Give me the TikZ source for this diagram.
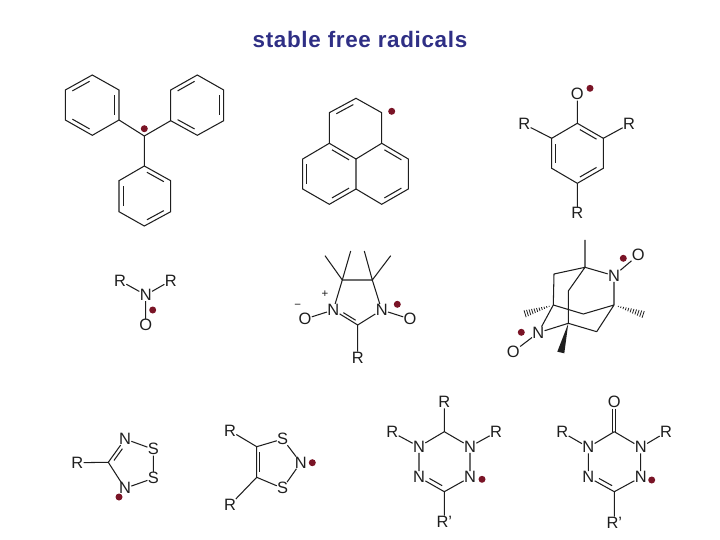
\documentclass[tikz,border=0pt]{standalone}
\usepackage{fontspec}
\setmainfont{Liberation Sans}
\usetikzlibrary{calc}
\definecolor{bondc}{HTML}{1E1E1E}
\definecolor{radc}{HTML}{7A1426}
\definecolor{titlec}{HTML}{2F2F85}
\newcommand{\dbl}[3]{\draw[bond] ($($(#1)!.12!(#2)$)!.16!(#3)$) -- ($($(#2)!.12!(#1)$)!.16!(#3)$);}
\newcommand{\dblx}[5]{\draw[bond] ($($(#1)!#4!(#2)$)!.16!(#3)$) -- ($($(#2)!#5!(#1)$)!.16!(#3)$);}
\newcommand{\hashw}[2]{\foreach \t in {.14,.22,...,1.0}{\pgfmathsetmacro\hh{3.8*\t}
  \draw[hash] ($($(#1)!\t!(#2)$)!\hh bp!90:(#2)$) -- ($($(#1)!\t!(#2)$)!\hh bp!-90:(#2)$);}}
\tikzset{
  bond/.style={draw=bondc,line width=1.05bp},
  hash/.style={draw=bondc,line width=0.8bp},
  atom/.style={font=\fontsize{16.5}{17}\selectfont,text=bondc,inner sep=0.4bp,outer sep=0pt,minimum size=0pt},
  chg/.style={font=\fontsize{11.5}{12}\selectfont,text=bondc,inner sep=0pt},
  rad/.style={circle,fill=radc,draw=none,minimum size=7bp,inner sep=0pt},
  heading/.style={font=\fontsize{22.5}{26}\selectfont\bfseries\addfontfeatures{LetterSpace=3},text=titlec,inner sep=0pt}
}
\begin{document}
\begin{tikzpicture}[x=1bp,y=-1bp]
\useasboundingbox (0,0) rectangle (720,540);
\node[heading] (title) at (360,39.5) {stable free radicals};

% --- triphenylmethyl
\path (144.3,136) coordinate (tc)
 (92.3,75) coordinate (l1) (119,90) coordinate (l2) (119,120) coordinate (l3)
 (92.3,135.3) coordinate (l4) (65.3,120) coordinate (l5) (65.3,90) coordinate (l6) (92.3,105) coordinate (lc)
 (197.3,75) coordinate (r1) (223.7,90) coordinate (r2) (223.7,120.7) coordinate (r3)
 (197.3,135.3) coordinate (r4) (170.7,120.7) coordinate (r5) (170.7,90) coordinate (r6) (197.3,105) coordinate (rc)
 (144.3,166) coordinate (b1) (170.7,180.7) coordinate (b2) (170.7,211.7) coordinate (b3)
 (144.3,226) coordinate (b4) (119,211.7) coordinate (b5) (119,180.7) coordinate (b6) (144.3,196) coordinate (bc);
\draw[bond] (l1)--(l2)--(l3)--(l4)--(l5)--(l6)--cycle;
\draw[bond] (r1)--(r2)--(r3)--(r4)--(r5)--(r6)--cycle;
\draw[bond] (b1)--(b2)--(b3)--(b4)--(b5)--(b6)--cycle;
\draw[bond] (l3)--(tc) (r5)--(tc) (b1)--(tc);
\dbl{l6}{l1}{lc}\dbl{l4}{l5}{lc}\dbl{l2}{l3}{lc}
\dbl{r6}{r1}{rc}\dbl{r2}{r3}{rc}\dbl{r4}{r5}{rc}
\dbl{b1}{b2}{bc}\dbl{b3}{b4}{bc}\dbl{b5}{b6}{bc}
\node[rad] (rad1) at (144.3,128.7) {};

% --- phenalenyl
\path (356,98.3) coordinate (p1) (381.7,112.7) coordinate (p2) (381.7,143.3) coordinate (p3)
 (356,159) coordinate (p4) (329.3,143.3) coordinate (p5) (329.3,112.7) coordinate (p6)
 (302.7,159) coordinate (p7) (302.7,189) coordinate (p8) (329.3,204.3) coordinate (p9)
 (356,189) coordinate (p10) (381.7,204.3) coordinate (p11) (408.3,189) coordinate (p12) (408.3,159) coordinate (p13)
 (356,128.5) coordinate (pa) (329.3,174) coordinate (pb) (381.7,174) coordinate (pd);
\draw[bond] (p1)--(p2)--(p3)--(p4)--(p5)--(p6)--cycle;
\draw[bond] (p5)--(p7)--(p8)--(p9)--(p10)--(p4);
\draw[bond] (p10)--(p11)--(p12)--(p13)--(p3);
\dbl{p6}{p1}{pa}\dbl{p5}{p4}{pb}\dbl{p7}{p8}{pb}\dbl{p9}{p10}{pb}\dbl{p3}{p13}{pd}\dbl{p12}{p11}{pd}
\node[rad] (rad2) at (391.7,111.3) {};

% --- phenoxyl
\node[atom] (po) at (577.3,94.3) {O};
\node[atom] (prl) at (524.3,124.3) {R};
\node[atom] (prr) at (629,124.3) {R};
\node[atom] (prb) at (577.3,213.3) {R};
\path (577.3,123.3) coordinate (q1) (603.3,138.3) coordinate (q2) (603.3,168.3) coordinate (q3)
 (577.3,183.3) coordinate (q4) (551.7,168.3) coordinate (q5) (551.7,138.3) coordinate (q6) (577.3,153.3) coordinate (qc);
\draw[bond] (q1)--(q2)--(q3)--(q4)--(q5)--(q6)--cycle;
\draw[bond] (po)--(q1) (prl)--(q6) (prr)--(q2) (prb)--(q4);
\dbl{q1}{q2}{qc}\dbl{q3}{q4}{qc}\dbl{q5}{q6}{qc}
\node[rad] (rad3) at (590,88.3) {};

% --- nitroxide
\node[atom] (nrl) at (120,280.7) {R};
\node[atom] (nrr) at (170.7,280.7) {R};
\node[atom] (nn) at (145.7,295) {N};
\node[atom] (no) at (145.7,325) {O};
\draw[bond] (nrl)--(nn) (nrr)--(nn) (nn)--(no);
\node[rad] (rad4) at (152.7,310) {};

% --- nitronyl nitroxide
\path (342.3,280) coordinate (i4) (372.3,280) coordinate (i5) (357.7,325) coordinate (i2)
 (325,255.7) coordinate (m1) (350.7,251) coordinate (m2) (364.3,251) coordinate (m3) (390.7,255.7) coordinate (m4)
 (357.7,303) coordinate (ic);
\node[atom] (in1) at (333.3,310) {N};
\node[atom] (in3) at (381.7,310) {N};
\node[atom] (iol) at (305,319) {O};
\node[atom] (ior) at (410,319) {O};
\node[atom] (ir) at (357.7,357.7) {R};
\node[chg] (plus) at (325,294.3) {+};
\node[chg] (minus) at (297.7,306) {−};
\draw[bond] (i4)--(i5) (i5)--(in3) (in3)--(i2) (i2)--(in1) (in1)--(i4) (i2)--(ir) (in1)--(iol) (in3)--(ior);
\draw[bond] (i4)--(m1) (i4)--(m2) (i5)--(m3) (i5)--(m4);
\dblx{in1}{i2}{ic}{.3}{.1}
\node[rad] (rad5) at (397.3,304.3) {};

% --- bicyclic dinitroxide
\path (585,267.3) coordinate (d1) (585,240) coordinate (d1m)
 (614,305) coordinate (d2) (645,315) coordinate (d2m) (596.7,331.7) coordinate (d3)
 (568.3,323.3) coordinate (d4) (553.3,305) coordinate (d5) (523.3,314.3) coordinate (d5m)
 (554,274) coordinate (d6) (568.3,291) coordinate (d7) (583.3,314) coordinate (d8)
 (557.3,351.7) coordinate (w1) (564.3,353.3) coordinate (w2);
\node[atom] (dn1) at (614,275.7) {N};
\node[atom] (do1) at (638.3,255) {O};
\node[atom] (dn2) at (538.3,332.7) {N};
\node[atom] (do2) at (513.3,351.7) {O};
\draw[bond] (d1)--(d1m) (d1)--(dn1) (dn1)--(d2) (dn1)--(do1) (d2)--(d3) (d3)--(d4) (d4)--(dn2) (dn2)--(d5) (dn2)--(do2)
 (d1)--(d6) (d6)--(d5) (d1)--(d7) (d7)--(d4) (d5)--(d8) (d8)--(d2);
\fill[bondc] (d4)--(w1)--(w2)--cycle;
\hashw{d2}{d2m}
\hashw{d5}{d5m}
\node[rad] (rad6) at (623.3,258.3) {};
\node[rad] (rad7) at (521.3,332.3) {};

% --- dithiadiazolyl
\path (108.3,462.3) coordinate (e1) (135,463) coordinate (ec);
\node[atom] (er) at (77.3,462.7) {R};
\node[atom] (en1) at (125,439) {N};
\node[atom] (es1) at (153.3,449.3) {S};
\node[atom] (es2) at (153.3,478.3) {S};
\node[atom] (en2) at (125,488.3) {N};
\draw[bond] (er)--(e1) (e1)--(en1) (en1)--(es1) (es1)--(es2) (es2)--(en2) (en2)--(e1);
\dblx{e1}{en1}{ec}{.1}{.3}
\node[rad] (rad8) at (119,497) {};

% --- dithiazolyl
\path (256.7,446.7) coordinate (f1) (256.7,477.3) coordinate (f2) (275,462) coordinate (fc);
\node[atom] (fr1) at (230,430.7) {R};
\node[atom] (fr2) at (230,505) {R};
\node[atom] (fs1) at (282.7,439) {S};
\node[atom] (fn) at (300.7,462.7) {N};
\node[atom] (fs2) at (282.7,488.3) {S};
\draw[bond] (fr1)--(f1) (fr2)--(f2) (f1)--(f2) (f1)--(fs1) (fs1)--(fn) (fn)--(fs2) (fs2)--(f2);
\dbl{f1}{f2}{fc}
\node[rad] (rad9) at (312.3,462.7) {};

% --- verdazyl 1
\path (444.3,431.7) coordinate (g1) (444.3,491.7) coordinate (g2) (444.3,461.7) coordinate (gc);
\node[atom] (grt) at (444.3,402.3) {R};
\node[atom] (grl) at (392.3,432.3) {R};
\node[atom] (grr) at (496,432.3) {R};
\node[atom] (gn1) at (419,446.7) {N};
\node[atom] (gn2) at (470,446.7) {N};
\node[atom] (gn3) at (419,477.3) {N};
\node[atom] (gn4) at (470,477.3) {N};
\node[atom] (grb) at (444.3,521.7) {R'};
\draw[bond] (grt)--(g1) (g1)--(gn1) (g1)--(gn2) (grl)--(gn1) (grr)--(gn2) (gn1)--(gn3) (gn2)--(gn4)
 (gn3)--(g2) (gn4)--(g2) (g2)--(grb);
\dblx{gn3}{g2}{gc}{.3}{.1}
\node[rad] (rad10) at (482,479.3) {};

% --- verdazyl 2
\path (614.3,431.7) coordinate (h1) (614.3,491.7) coordinate (h2) (614.3,461.7) coordinate (hc);
\node[atom] (hot) at (614.3,402.3) {O};
\node[atom] (hrl) at (562.3,432.3) {R};
\node[atom] (hrr) at (666,432.3) {R};
\node[atom] (hn1) at (588.3,447.3) {N};
\node[atom] (hn2) at (640.7,447.3) {N};
\node[atom] (hn3) at (588.3,477.3) {N};
\node[atom] (hn4) at (640.7,477.3) {N};
\node[atom] (hrb) at (614.3,522.7) {R'};
\draw[bond] ([xshift=-1.4bp]hot.south)--([xshift=-1.4bp]h1) ([xshift=1.4bp]hot.south)--([xshift=1.4bp]h1);
\draw[bond] (h1)--(hn1) (h1)--(hn2) (hrl)--(hn1) (hrr)--(hn2) (hn1)--(hn3) (hn2)--(hn4)
 (hn3)--(h2) (hn4)--(h2) (h2)--(hrb);
\dblx{hn3}{h2}{hc}{.3}{.1}
\node[rad] (rad11) at (651.7,480) {};
\end{tikzpicture}
\end{document}
